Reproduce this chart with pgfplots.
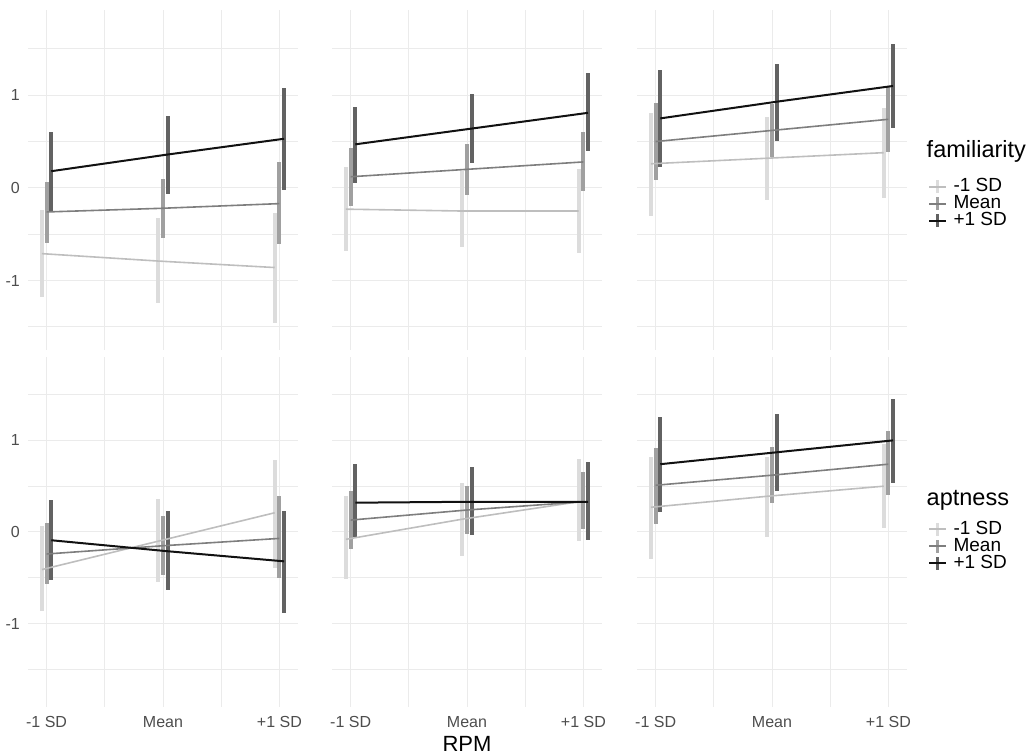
\documentclass[border=0pt]{standalone}
\usepackage{fontspec}
\setmainfont{Liberation Sans}
\usepackage{pgfplots}
\usepackage{pgfplotstable}
\pgfplotsset{compat=1.18}

\definecolor{cL}{HTML}{BEBEBE}
\definecolor{cLb}{HTML}{DCDCDC}
\definecolor{cM}{HTML}{7E7E7E}
\definecolor{cMb}{HTML}{A0A0A0}
\definecolor{cD}{HTML}{111111}
\definecolor{cDb}{HTML}{626262}
\definecolor{gridc}{HTML}{EBEBEB}
\definecolor{tickc}{HTML}{4D4D4D}

% x = RPM level; y/h/l = estimate, upper, lower for -1 SD (L), Mean (M), +1 SD (D)
\pgfplotstableread{
x yL hL lL yM hM lM yD hD lD
1 -0.71 -0.24 -1.18 -0.26 0.06 -0.60 0.18 0.60 -0.26
2 -0.79 -0.33 -1.24 -0.22 0.10 -0.54 0.36 0.78 -0.07
3 -0.86 -0.27 -1.46 -0.17 0.28 -0.61 0.53 1.08 -0.02
}\famA
\pgfplotstableread{
x yL hL lL yM hM lM yD hD lD
1 -0.23 0.22 -0.68 0.12 0.43 -0.20 0.47 0.87 0.05
2 -0.25 0.18 -0.64 0.20 0.47 -0.08 0.64 1.01 0.27
3 -0.25 0.20 -0.70 0.28 0.60 -0.03 0.81 1.24 0.40
}\famB
\pgfplotstableread{
x yL hL lL yM hM lM yD hD lD
1 0.26 0.81 -0.30 0.50 0.92 0.09 0.75 1.27 0.23
2 0.32 0.77 -0.13 0.62 0.90 0.33 0.93 1.34 0.51
3 0.38 0.86 -0.11 0.74 1.09 0.39 1.10 1.55 0.65
}\famC
\pgfplotstableread{
x yL hL lL yM hM lM yD hD lD
1 -0.41 0.07 -0.86 -0.24 0.10 -0.57 -0.09 0.35 -0.52
2 -0.10 0.36 -0.55 -0.15 0.17 -0.47 -0.21 0.23 -0.63
3 0.21 0.79 -0.39 -0.07 0.39 -0.50 -0.32 0.23 -0.88
}\aptA
\pgfplotstableread{
x yL hL lL yM hM lM yD hD lD
1 -0.08 0.39 -0.51 0.13 0.45 -0.19 0.32 0.74 -0.06
2 0.14 0.54 -0.26 0.24 0.50 -0.02 0.33 0.71 -0.03
3 0.33 0.80 -0.10 0.33 0.66 0.03 0.33 0.76 -0.09
}\aptB
\pgfplotstableread{
x yL hL lL yM hM lM yD hD lD
1 0.27 0.82 -0.29 0.51 0.92 0.09 0.74 1.25 0.22
2 0.39 0.82 -0.05 0.62 0.93 0.32 0.87 1.29 0.45
3 0.50 0.96 0.04 0.74 1.10 0.40 1.00 1.45 0.54
}\aptC

\newcommand{\bars}[4]{%
  \addplot[draw=none, mark=none, forget plot,
    error bars/.cd, y dir=both, y explicit, error mark=none,
    error bar style={line width=4pt, draw=#4}]
    table[x expr=\thisrow{x}+#3, y=y#2,
      y error plus expr=\thisrow{h#2}-\thisrow{y#2},
      y error minus expr=\thisrow{y#2}-\thisrow{l#2}] {#1};
}
\newcommand{\trend}[5]{%
  \addplot[draw=#4, line width=#5, mark=none, forget plot]
    table[x expr=\thisrow{x}+#3, y=y#2] {#1};
}
\newcommand{\panelplots}[1]{%
  \bars{#1}{L}{-0.04}{cLb}\bars{#1}{M}{0}{cMb}\bars{#1}{D}{0.04}{cDb}%
  \trend{#1}{L}{-0.04}{cL}{1.6pt}\trend{#1}{M}{0}{cM}{1.6pt}\trend{#1}{D}{0.04}{cD}{2pt}%
}
\newcommand{\keys}{%
  \addlegendimage{legend image code/.code={\draw[cLb, line width=2.5pt] (8.5pt,-6.5pt) -- (8.5pt,6.5pt); \draw[cL, line width=1.8pt] (0pt,0pt) -- (17pt,0pt);}}
  \addlegendentry{-1 SD}
  \addlegendimage{legend image code/.code={\draw[cMb, line width=2.5pt] (8.5pt,-6.5pt) -- (8.5pt,6.5pt); \draw[cM, line width=1.8pt] (0pt,0pt) -- (17pt,0pt);}}
  \addlegendentry{Mean}
  \addlegendimage{legend image code/.code={\draw[cDb, line width=2.5pt] (8.5pt,-6.5pt) -- (8.5pt,6.5pt); \draw[cD, line width=1.8pt] (0pt,0pt) -- (17pt,0pt);}}
  \addlegendentry{+1 SD}
}

\pgfplotsset{
  panel/.style={
    scale only axis, width=270pt,
    xmin=0.84, xmax=3.16,
    axis line style={draw=none},
    major tick length=0pt, minor tick length=0pt,
    xtick={1,2,3}, minor xtick={1.5,2.5},
    ytick={-1,0,1}, minor ytick={-1.5,-0.5,0.5,1.5},
    grid=both,
    major grid style={draw=gridc, line width=1pt},
    minor grid style={draw=gridc, line width=0.9pt},
    xticklabels={}, yticklabels={},
    tick label style={font=\fontsize{16}{16}\selectfont, text=tickc},
    yticklabel style={anchor=east, inner sep=0pt, xshift=-8pt},
    xticklabel style={anchor=north, inner sep=0pt, yshift=-9pt},
    clip=false,
  },
  toprow/.style={panel, height=340pt, ymin=-1.75, ymax=1.92},
  botrow/.style={panel, height=350pt, ymin=-1.91, ymax=1.91,
    xticklabels={-1 SD, Mean, +1 SD}},
  leg/.style={legend style={at={(axis description cs:1.078,#1)}, anchor=north west,
    draw=none, fill=none, inner sep=0pt, row sep=0.5pt, column sep=6pt,
    font=\fontsize{19}{19}\selectfont, legend cell align=left,
    nodes={inner sep=0.5pt, text height=13pt, text depth=2.5pt}}},
}

\begin{document}
\begin{tikzpicture}
\useasboundingbox (0pt,0pt) rectangle (1033pt,755pt);

% familiarity row
\begin{axis}[toprow, at={(28pt,745pt)}, anchor=north west, yticklabels={-1,0,1}]
\panelplots{\famA}
\end{axis}
\begin{axis}[toprow, at={(332pt,745pt)}, anchor=north west]
\panelplots{\famB}
\end{axis}
\begin{axis}[toprow, at={(637pt,745pt)}, anchor=north west, leg=0.505]
\panelplots{\famC}
\keys
\node[anchor=base west, font=\fontsize{23.5}{23.5}\selectfont] at (axis description cs:1.06,0.565) {familiarity};
\end{axis}

% aptness row
\begin{axis}[botrow, at={(28pt,398pt)}, anchor=north west, yticklabels={-1,0,1}]
\panelplots{\aptA}
\end{axis}
\begin{axis}[botrow, at={(332pt,398pt)}, anchor=north west]
\panelplots{\aptB}
\node[anchor=base, font=\fontsize{22}{22}\selectfont] at (axis description cs:0.5,-0.128) {RPM};
\end{axis}
\begin{axis}[botrow, at={(637pt,398pt)}, anchor=north west, leg=0.532]
\panelplots{\aptC}
\keys
\node[anchor=base west, font=\fontsize{23.5}{23.5}\selectfont] at (axis description cs:1.06,0.577) {aptness};
\end{axis}
\end{tikzpicture}
\end{document}
